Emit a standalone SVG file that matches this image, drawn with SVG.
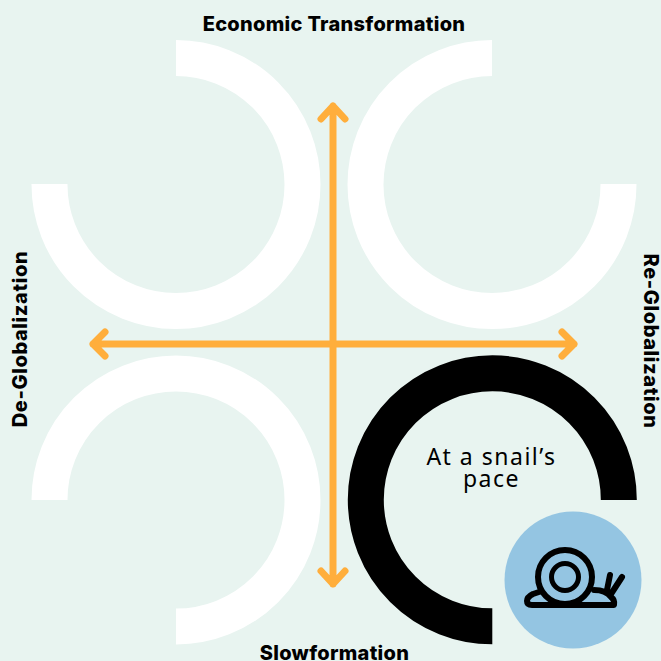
<svg xmlns="http://www.w3.org/2000/svg" width="661" height="661" viewBox="0 0 661 661">
<style>
.arc{fill:none;stroke:#fff;stroke-width:36}
.arrow{fill:none;stroke:#ffae3c;stroke-width:7;stroke-linecap:round;stroke-linejoin:round}
.axis{font-family:"Inter","Liberation Sans",sans-serif;font-weight:800;font-size:20px;letter-spacing:.3px;fill:#000;text-anchor:middle}
.side{letter-spacing:.6px}
.lab{font-family:"Noto Sans","Liberation Sans",sans-serif;font-size:23px;letter-spacing:1.5px;fill:#000;text-anchor:middle}
.sn{fill:none;stroke:#000;stroke-linecap:round;stroke-linejoin:round}
</style>
<rect width="661" height="661" fill="#e8f4f0"/>
<g id="arc-top-left"><path class="arc" d="M176 58A126.500 126.500 0 1 1 49.500 184"/></g>
<g id="arc-top-right"><path class="arc" d="M492 58A126.500 126.500 0 1 0 618.500 184"/></g>
<g id="arc-bottom-left"><path class="arc" d="M49.500 500A126.500 126.500 0 1 1 176 626.500"/></g>
<g id="arc-bottom-right"><path class="arc" style="stroke:#000" d="M618.800 500A126.500 126.500 0 1 0 492.300 626.300"/></g>
<g id="connectors">
<path class="arrow" d="M333 106V584M321 119L333 106L345 119M321 571L333 584L345 571"/>
<path class="arrow" d="M93 344H574M105 332L93 344L105 356M562 332L574 344L562 356"/>
</g>
<g id="label-top"><text class="axis" x="334" y="31">Economic Transformation</text></g>
<g id="label-bottom"><text class="axis" x="334.500" y="660">Slowformation</text></g>
<g id="label-left"><text class="axis side" transform="translate(27 339) rotate(-90)">De-Globalization</text></g>
<g id="label-right"><text class="axis side" transform="translate(643.500 341) rotate(90)">Re-Globalization</text></g>
<g id="label-snail"><text class="lab" x="491.500" y="465">At a snail’s<tspan x="491.500" y="487">pace</tspan></text></g>
<g id="snail">
<circle cx="573" cy="580" r="68.500" fill="#94c5e2"/>
<circle class="sn" cx="565" cy="577" r="27" stroke-width="6"/>
<circle class="sn" cx="565" cy="577" r="13.500" stroke-width="5"/>
<path class="sn" stroke-width="6" d="M539 592L533 594Q527 597 527 601Q527 605 532 605H614Q615 600 611 597Q606 590 594 590M607 590L610 575M611 594L622 577"/>
</g>
</svg>
